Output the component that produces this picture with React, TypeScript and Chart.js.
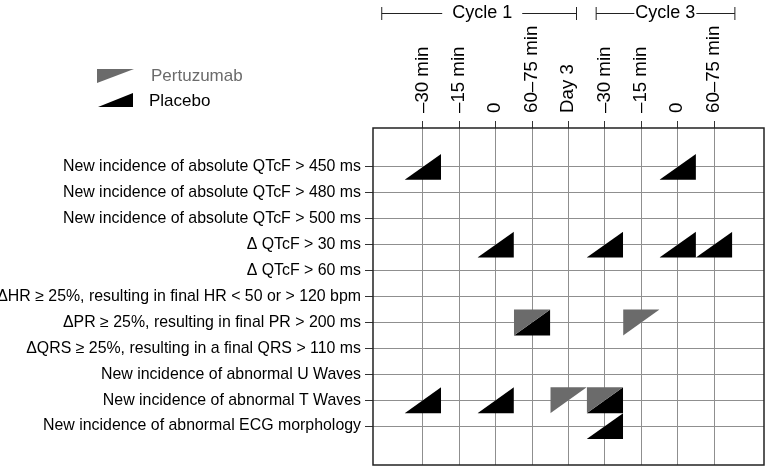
import React, { useEffect, useRef } from "react";
import { Chart, registerables } from "chart.js";

Chart.register(...registerables);

const FONT = "'Liberation Sans', Arial, Helvetica, sans-serif";

// Rows (ECG criteria)
const measures = [
  "New incidence of absolute QTcF > 450 ms",
  "New incidence of absolute QTcF > 480 ms",
  "New incidence of absolute QTcF > 500 ms",
  "\u0394 QTcF > 30 ms",
  "\u0394 QTcF > 60 ms",
  "\u0394HR \u2265 25%, resulting in final HR < 50 or > 120 bpm",
  "\u0394PR \u2265 25%, resulting in final PR > 200 ms",
  "\u0394QRS \u2265 25%, resulting in a final QRS > 110 ms",
  "New incidence of abnormal U Waves",
  "New incidence of abnormal T Waves",
  "New incidence of abnormal ECG morphology",
];

// Columns (time points)
const timepoints = [
  "\u201330 min",
  "\u201315 min",
  "0",
  "60\u201375 min",
  "Day 3",
  "\u201330 min",
  "\u201315 min",
  "0",
  "60\u201375 min",
];

// Cycle brackets over the time axis (in time-index units)
const cycleLabels = ["Cycle 1", "Cycle 3"];
const cycleStart = [-1.13, 4.76];
const cycleEnd = [4.22, 8.57];
const cycleCenter = [1.63, 6.66];

// Cells flagged: [measureIndex, timeIndex]
const placeboCells: [number, number][] = [
  [0, 0], [0, 7],
  [3, 2], [3, 5], [3, 7], [3, 8],
  [6, 3],
  [9, 0], [9, 2], [9, 5],
  [10, 5],
];
const pertuzumabCells: [number, number][] = [
  [6, 3], [6, 6],
  [9, 4], [9, 5],
];

const PERT_COLOR = "#6b6b6b";
const PLAC_COLOR = "#000000";

function triangles(cells: [number, number][], color: string, upper: boolean, label: string) {
  return cells.map(([r, c]) => ({
    type: "line" as const,
    label,
    data: [
      { x: c - 0.5, y: r + 0.5 },
      { x: c + 0.5, y: r - 0.5 },
    ],
    fill: { value: upper ? r - 0.5 : r + 0.5 },
    backgroundColor: color,
    borderColor: "rgba(0,0,0,0)",
    borderWidth: 0,
    pointRadius: 0,
    pointHoverRadius: 0,
    tension: 0,
  }));
}

const overlayPlugin = {
  id: "overlay",
  afterDraw(chart: any) {
    const { ctx, chartArea: a } = chart;
    const x = chart.scales.x;
    ctx.save();
    // plot frame
    ctx.strokeStyle = "#222";
    ctx.lineWidth = 1.5;
    ctx.strokeRect(a.left, a.top, a.right - a.left, a.bottom - a.top);

    // cycle brackets
    ctx.font = `18px ${FONT}`;
    ctx.fillStyle = "#000";
    ctx.textAlign = "center";
    ctx.textBaseline = "middle";
    ctx.strokeStyle = "#222";
    ctx.lineWidth = 1;
    const gaps = [10, 1];
    cycleLabels.forEach((lab, i) => {
      const x0 = x.getPixelForValue(cycleStart[i]);
      const x1 = x.getPixelForValue(cycleEnd[i]);
      const tx = x.getPixelForValue(cycleCenter[i]);
      const w = ctx.measureText(lab).width;
      const y = 13.5;
      ctx.beginPath();
      ctx.moveTo(x0, y);
      ctx.lineTo(tx - w / 2 - gaps[i], y);
      ctx.moveTo(tx + w / 2 + gaps[i], y);
      ctx.lineTo(x1, y);
      ctx.moveTo(x0, 7);
      ctx.lineTo(x0, 20);
      ctx.moveTo(x1, 7);
      ctx.lineTo(x1, 20);
      ctx.stroke();
      ctx.fillText(lab, tx, y);
    });

    // legend
    ctx.fillStyle = PERT_COLOR;
    ctx.beginPath();
    ctx.moveTo(97, 69);
    ctx.lineTo(134, 69);
    ctx.lineTo(97, 83);
    ctx.closePath();
    ctx.fill();
    ctx.fillStyle = PLAC_COLOR;
    ctx.beginPath();
    ctx.moveTo(98, 107);
    ctx.lineTo(133, 93);
    ctx.lineTo(133, 107);
    ctx.closePath();
    ctx.fill();
    ctx.font = `17px ${FONT}`;
    ctx.textAlign = "left";
    ctx.fillStyle = PERT_COLOR;
    ctx.fillText("Pertuzumab", 151, 76);
    ctx.fillStyle = PLAC_COLOR;
    ctx.fillText("Placebo", 149, 101);
    ctx.restore();
  },
};

export default function App() {
  const ref = useRef<HTMLCanvasElement | null>(null);

  useEffect(() => {
    if (!ref.current) return;
    const chart = new Chart(ref.current, {
      type: "line",
      data: {
        datasets: [
          ...triangles(pertuzumabCells, PERT_COLOR, true, "Pertuzumab"),
          ...triangles(placeboCells, PLAC_COLOR, false, "Placebo"),
        ] as any,
      },
      options: {
        animation: false,
        responsive: false,
        layout: { padding: { right: 3, bottom: 2, left: 0, top: 0 } },
        plugins: { legend: { display: false }, tooltip: { enabled: false } },
        scales: {
          x: {
            type: "linear",
            position: "top",
            min: -1.37,
            max: 9.37,
            afterBuildTicks: (s: any) => {
              s.ticks = timepoints.map((_, i) => ({ value: i }));
            },
            afterFit: (s: any) => {
              s.height = 128;
              s.paddingLeft = 0;
              s.paddingRight = 0;
            },
            ticks: {
              autoSkip: false,
              maxRotation: 90,
              minRotation: 90,
              padding: 8,
              labelOffset: 22,
              color: "#000",
              font: { family: FONT, size: 18.7 },
              callback: (v: any) => timepoints[Math.round(Number(v))] ?? "",
            },
            grid: { color: "#8f8f8f", tickColor: "#333", tickLength: 7, lineWidth: 1 },
            border: { display: false },
          },
          y: {
            type: "linear",
            reverse: true,
            min: -1.5,
            max: 11.5,
            afterBuildTicks: (s: any) => {
              s.ticks = measures.map((_, i) => ({ value: i }));
            },
            afterFit: (s: any) => {
              s.width = 373;
              s.paddingTop = 0;
              s.paddingBottom = 0;
            },
            ticks: {
              autoSkip: false,
              padding: 4,
              color: "#000",
              font: { family: FONT, size: 15.9 },
              callback: (v: any) => measures[Math.round(Number(v))] ?? "",
            },
            grid: { color: "#8f8f8f", tickColor: "#333", tickLength: 8, lineWidth: 1 },
            border: { display: false },
          },
        },
      },
      plugins: [overlayPlugin],
    });
    return () => chart.destroy();
  }, []);

  return (
    <div style={{ position: "fixed", left: 0, top: 0, width: 767, height: 467, background: "#fff" }}>
      <canvas ref={ref} width={767} height={467} style={{ display: "block" }} />
    </div>
  );
}
